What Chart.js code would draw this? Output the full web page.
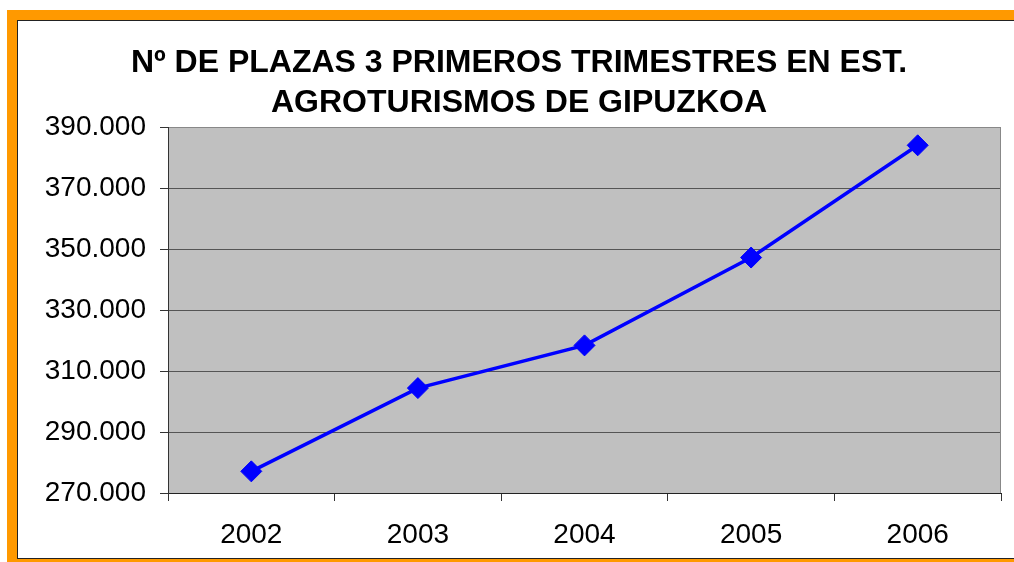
<!DOCTYPE html>
<html>
<head>
<meta charset="utf-8">
<script src="https://cdn.jsdelivr.net/npm/chart.js@4/dist/chart.umd.min.js"></script>
<style>
  html, body { margin: 0; padding: 0; background: #fff; overflow: hidden; }
  body { width: 1014px; height: 562px; position: relative; }
  #frame {
    position: absolute; left: 7px; top: 10px; width: 1100px; height: 559px;
    box-sizing: border-box; border: 10px solid #FF9900;
  }
  #inner { width: 100%; height: 100%; box-sizing: border-box; border: 1px solid #222; background: #fff; }
  #wrap { position: absolute; left: 0; top: 0; width: 1014px; height: 562px; }
</style>
</head>
<body>
<div id="frame"><div id="inner"></div></div>
<div id="wrap"><canvas id="chart" width="1014" height="562"></canvas></div>
<script>
// data
const years = ['2002', '2003', '2004', '2005', '2006'];
const plazas = [277100, 304400, 318400, 347200, 384000];
const yMin = 270000;
const yMax = 390000;
const yStep = 20000;
const titleLines = ['Nº DE PLAZAS 3 PRIMEROS TRIMESTRES EN EST.', 'AGROTURISMOS DE GIPUZKOA'];

// gray plot area + right frame
const plotBg = {
  id: 'plotBg',
  beforeDraw(chart) {
    const { ctx, chartArea: a } = chart;
    ctx.save();
    ctx.fillStyle = '#C0C0C0';
    ctx.fillRect(a.left, a.top, a.right - a.left, a.bottom - a.top);
    ctx.restore();
  },
  afterDatasetsDraw(chart) {
    const { ctx, chartArea: a } = chart;
    ctx.save();
    ctx.strokeStyle = '#888';
    ctx.lineWidth = 1;
    ctx.beginPath();
    ctx.moveTo(a.right - 0.5, a.top);
    ctx.lineTo(a.right - 0.5, a.bottom);
    ctx.stroke();
    ctx.restore();
  }
};

const fmt = v => String(Math.round(v / 1000)) + '.000';
const FONT = 'Liberation Sans, Arial, sans-serif';

new Chart(document.getElementById('chart'), {
  type: 'line',
  data: {
    labels: years,
    datasets: [{
      data: plazas,
      borderColor: '#0000FF',
      backgroundColor: '#0000FF',
      borderWidth: 3.5,
      pointStyle: 'rectRot',
      pointRadius: 10.5,
      pointBorderWidth: 1,
      pointBackgroundColor: '#0000FF',
      pointBorderColor: '#0000FF',
      tension: 0
    }]
  },
  options: {
    responsive: false,
    animation: false,
    layout: { padding: { left: 37, right: 13, top: 0, bottom: 12 } },
    plugins: {
      legend: { display: false },
      tooltip: { enabled: false },
      title: {
        display: true,
        text: titleLines,
        color: '#000',
        font: { family: FONT, size: 32, weight: 'bold', lineHeight: 1.25 },
        padding: { top: 43, bottom: 4 }
      }
    },
    scales: {
      x: {
        offset: true,
        afterFit(scale) { scale.height = 57; },
        grid: { offset: true, drawOnChartArea: false, drawTicks: true, tickLength: 8, tickColor: '#333' },
        border: { color: '#222', width: 1 },
        ticks: {
          color: '#000', padding: 17, maxRotation: 0,
          font: { family: FONT, size: 28 }
        }
      },
      y: {
        min: yMin,
        max: yMax,
        afterFit(scale) { scale.width = 131; },
        grid: {
          color: ctx => (ctx.tick && ctx.tick.value === yMax) ? '#888' : '#555',
          tickColor: '#333',
          tickLength: 8,
          lineWidth: 1
        },
        border: { color: '#333', width: 1 },
        ticks: {
          stepSize: yStep,
          color: '#000',
          padding: 14,
          callback: v => fmt(v),
          font: { family: FONT, size: 28 }
        }
      }
    }
  },
  plugins: [plotBg]
});
</script>
</body>
</html>
